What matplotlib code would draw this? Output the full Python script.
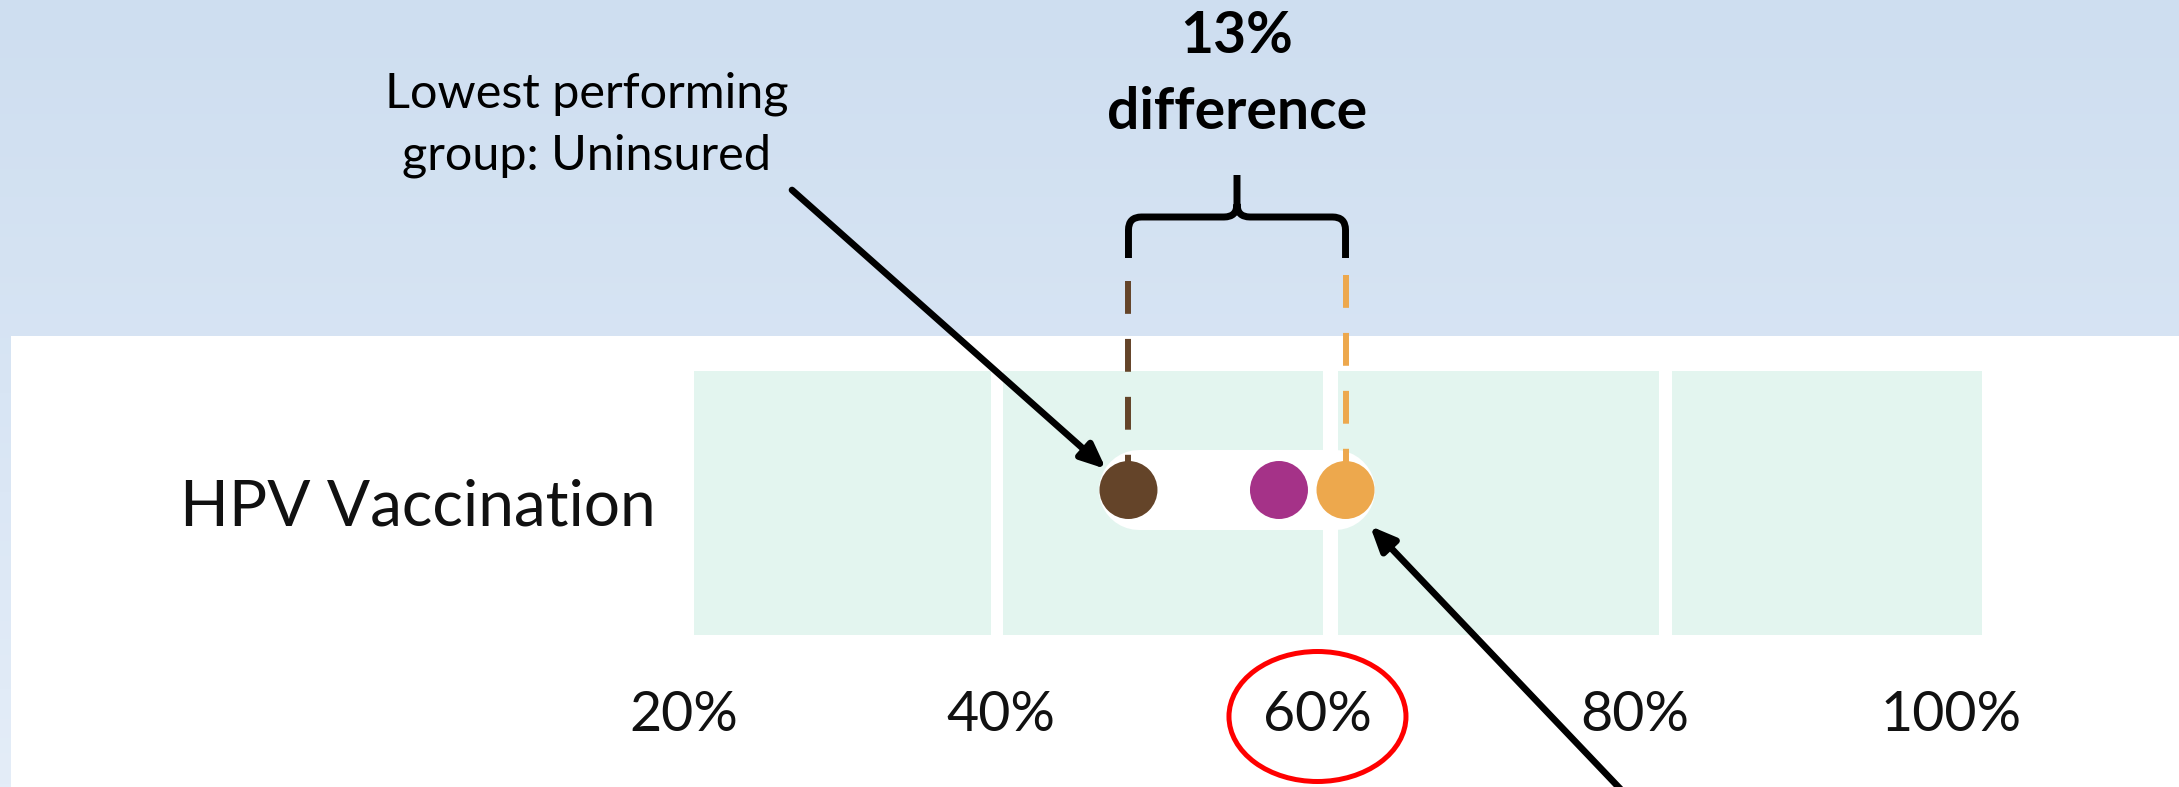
import numpy as np
import matplotlib
matplotlib.use("Agg")
import matplotlib.pyplot as plt
from matplotlib.patches import Rectangle, Ellipse, PathPatch
from matplotlib.path import Path
from matplotlib.colors import LinearSegmentedColormap

# ---------------- data ----------------
measure = "HPV Vaccination"
groups = ["Uninsured", "Group B", "Highest performing"]
values = [47.7, 57.2, 61.4]          # % vaccinated
dot_colors = ["#644429", "#a53288", "#eda84d"]
tick_values = [20, 40, 60, 80, 100]
tick_labels = ["20%", "40%", "60%", "80%", "100%"]
band_ranges = [(20.3, 39.0), (39.8, 60.0), (60.9, 81.2), (82.0, 101.6)]
diff_label = "13%\ndifference"
low_label = "Lowest performing\ngroup: Uninsured"
highlight_tick = 60

# ---------------- figure ----------------
W, H = 2179, 787
fig = plt.figure(figsize=(W / 100, H / 100), dpi=100)
ax = fig.add_axes([0, 0, 1, 1])
XMIN, XMAX = -23.53, 114.01
ax.set_xlim(XMIN, XMAX)
ax.set_ylim(H, 0)
ax.axis("off")
PXU = (XMAX - XMIN) / W  # data units per pixel


def px(x):
    return XMIN + x * PXU


# background gradient
cmap = LinearSegmentedColormap.from_list("bg", ["#cedef0", "#d8e5f4", "#e4edf8"])
grad = np.linspace(0, 1, 256).reshape(-1, 1)
ax.imshow(grad, cmap=cmap, aspect="auto", extent=[XMIN, XMAX, H, 0], zorder=0)
# white panel
ax.add_patch(Rectangle((11 / W, 0), 1, (H - 336) / H, transform=ax.transAxes,
                       facecolor="white", edgecolor="none", zorder=1))

# bands
for a, b in band_ranges:
    ax.add_patch(Rectangle((a, 371), b - a, 264, facecolor="#e3f5ef",
                           edgecolor="none", zorder=2))

ydot = 490
# white pill behind dots
ax.plot([min(values) + 11 * PXU, max(values) - 11 * PXU], [ydot, ydot], color="white",
        lw=80 * 0.72, solid_capstyle="round", zorder=3)

# dashed guide lines
lo, hi = values[0], values[2]
ax.plot([lo, lo], [281, ydot], color=dot_colors[0], lw=4.3, dashes=(5.5, 4.2),
        dash_capstyle="butt", zorder=4)
ax.plot([hi, hi], [275, ydot], color=dot_colors[2], lw=4.3, dashes=(5.5, 4.2),
        dash_capstyle="butt", zorder=4)

# dots
ax.scatter(values, [ydot] * len(values), s=(58 * 0.72) ** 2, c=dot_colors,
           edgecolors="none", zorder=5)

# brace
r = 13 * PXU
xm = (lo + hi) / 2
yb, yh, yt = 258, 217, 175
verts = [(lo, yb), (lo, yh + 13), (lo, yh), (lo + r, yh), (xm - r, yh), (xm, yh), (xm, yh - 13),
         (xm, yt), (xm, yh - 13), (xm, yh), (xm + r, yh), (hi - r, yh), (hi, yh), (hi, yh + 13),
         (hi, yb)]
codes = [Path.MOVETO, Path.LINETO, Path.CURVE3, Path.CURVE3, Path.LINETO, Path.CURVE3,
         Path.CURVE3, Path.LINETO, Path.MOVETO, Path.CURVE3, Path.CURVE3, Path.LINETO,
         Path.CURVE3, Path.CURVE3, Path.LINETO]
ax.add_patch(PathPatch(Path(verts, codes), facecolor="none", edgecolor="black",
                       lw=5, capstyle="butt", joinstyle="round", zorder=6))

# difference text
l1, l2 = diff_label.split("\n")
ax.text(xm, 53, l1, ha="center", va="baseline", fontsize=41, fontweight="bold",
        family="Lato", color="black", zorder=7)
ax.text(xm, 129, l2, ha="center", va="baseline", fontsize=41, fontweight="bold",
        family="Lato", color="black", zorder=7)

# lowest performing text
m1, m2 = low_label.split("\n")
ax.text(px(587), 107, m1, ha="center", va="baseline", fontsize=35, family="Lato",
        color="black", zorder=7)
ax.text(px(587), 170, m2, ha="center", va="baseline", fontsize=35, family="Lato",
        color="black", zorder=7)

# measure label
ax.text(px(180), 526, measure, ha="left", va="baseline", fontsize=46, family="Lato",
        color="#111111", zorder=7)

# tick labels
for v, t in zip(tick_values, tick_labels):
    ax.text(v - 0.37, 731, t, ha="center", va="baseline", fontsize=40, family="Lato",
            color="#111111", zorder=7)

# red ellipse around highlighted tick
ax.add_patch(Ellipse((highlight_tick - 0.37, 716.5), 177 * PXU, 130, facecolor="none",
                     edgecolor="#ff0000", lw=3.6, zorder=8))

# arrows
arrow_kw = dict(arrowstyle="-|>,head_length=0.55,head_width=0.24", color="black",
                lw=4.8, mutation_scale=27, shrinkA=0, shrinkB=0)
ax.annotate("", xy=(lo - 1.42, 469), xytext=(px(792), 190), arrowprops=arrow_kw, zorder=9)
ax.annotate("", xy=(hi + 1.55, 526), xytext=(px(1628), 797), arrowprops=arrow_kw, zorder=9,
            annotation_clip=False)

fig.savefig("out.png", dpi=100)
